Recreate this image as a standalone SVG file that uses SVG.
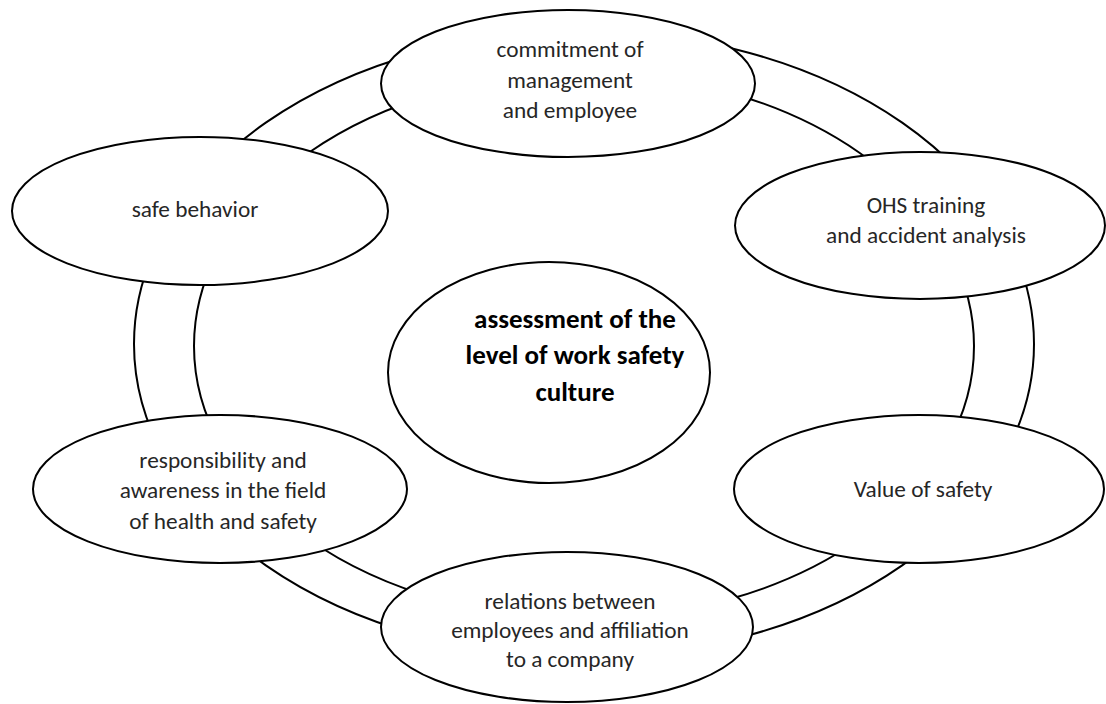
<svg xmlns="http://www.w3.org/2000/svg" width="1106" height="704" viewBox="0 0 1106 704">
<style>
.bg{fill:#ffffff}
.ring{fill:none;stroke:#000;stroke-width:2}
.node{fill:#fff;stroke:#000;stroke-width:2}
.t{font-family:Calibri,Carlito,"Liberation Sans",Arial,sans-serif;font-size:23.3px;fill:#262626;text-anchor:middle}
.b{font-family:Calibri,Carlito,"Liberation Sans",Arial,sans-serif;font-size:27px;font-weight:bold;fill:#000;text-anchor:middle}
</style>
<rect class="bg" x="0" y="0" width="1106" height="704"/>
<g id="connectors">
<ellipse class="ring" cx="584" cy="344" rx="450" ry="313"/>
<ellipse class="ring" cx="584" cy="346" rx="390" ry="273"/>
</g>
<g id="node-commitment">
<ellipse class="node" cx="568" cy="83.5" rx="187" ry="73.5"/>
<text class="t" x="570" y="57">commitment of</text>
<text class="t" x="570" y="88">management</text>
<text class="t" x="570" y="118">and employee</text>
</g>
<g id="node-safe-behavior">
<ellipse class="node" cx="200" cy="211" rx="188" ry="74"/>
<text class="t" x="195" y="217">safe behavior</text>
</g>
<g id="node-ohs">
<ellipse class="node" cx="920" cy="225.5" rx="185" ry="73.5"/>
<text class="t" x="926" y="213">OHS training</text>
<text class="t" x="926" y="243">and accident analysis</text>
</g>
<g id="node-responsibility">
<ellipse class="node" cx="220" cy="489" rx="187" ry="74"/>
<text class="t" x="223" y="468">responsibility and</text>
<text class="t" x="223" y="498">awareness in the field</text>
<text class="t" x="223" y="529">of health and safety</text>
</g>
<g id="node-value">
<ellipse class="node" cx="919" cy="489" rx="185" ry="74"/>
<text class="t" x="923" y="497">Value of safety</text>
</g>
<g id="node-relations">
<ellipse class="node" cx="567" cy="627" rx="186" ry="75"/>
<text class="t" x="570" y="609">relations between</text>
<text class="t" x="570" y="638">employees and affiliation</text>
<text class="t" x="570" y="667">to a company</text>
</g>
<g id="node-center">
<ellipse class="node" cx="549" cy="372.5" rx="161" ry="110.5"/>
<text class="b" x="575" y="328">assessment of the</text>
<text class="b" x="575" y="364">level of work safety</text>
<text class="b" x="575" y="401">culture</text>
</g>
</svg>
